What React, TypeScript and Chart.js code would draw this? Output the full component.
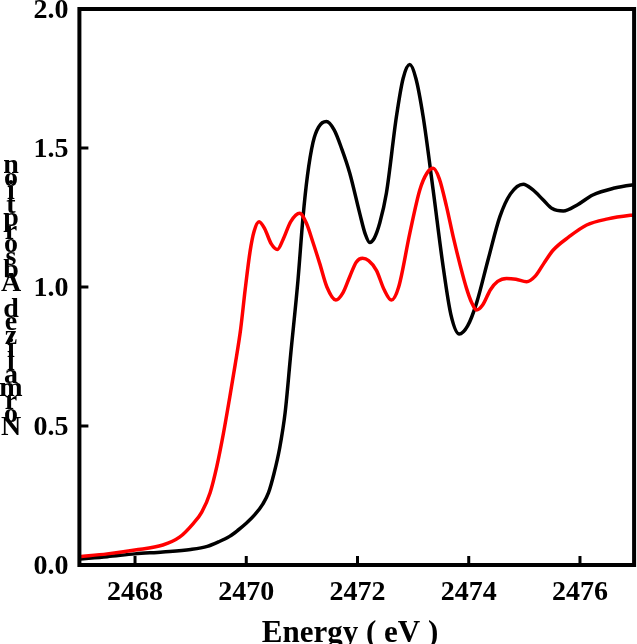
import React, { useEffect, useRef } from "react";
import { Chart, registerables } from "chart.js";

Chart.register(...registerables);

const blackX = [2467.0, 2467.5, 2468.0, 2468.5, 2469.0, 2469.3, 2469.5, 2469.7, 2469.85, 2470.0, 2470.15, 2470.3, 2470.4, 2470.5, 2470.6, 2470.7, 2470.8, 2470.93, 2471.02, 2471.1, 2471.2, 2471.3, 2471.44, 2471.58, 2471.72, 2471.86, 2472.04, 2472.14, 2472.22, 2472.3, 2472.4, 2472.52, 2472.7, 2472.82, 2472.94, 2473.05, 2473.18, 2473.36, 2473.54, 2473.68, 2473.83, 2473.98, 2474.14, 2474.35, 2474.56, 2474.75, 2474.98, 2475.15, 2475.34, 2475.5, 2475.7, 2475.95, 2476.23, 2476.6, 2476.95, 2477.0];
const blackY = [0.022, 0.03, 0.04, 0.047, 0.056, 0.067, 0.083, 0.103, 0.125, 0.15, 0.18, 0.22, 0.26, 0.33, 0.42, 0.55, 0.76, 1.025, 1.25, 1.4, 1.52, 1.575, 1.595, 1.565, 1.495, 1.41, 1.265, 1.19, 1.16, 1.175, 1.23, 1.338, 1.613, 1.75, 1.8, 1.75, 1.613, 1.349, 1.073, 0.9, 0.831, 0.86, 0.942, 1.1, 1.253, 1.335, 1.37, 1.35, 1.313, 1.282, 1.273, 1.295, 1.331, 1.355, 1.367, 1.368];

const redX = [2467.0, 2467.5, 2468.0, 2468.5, 2468.8, 2469.05, 2469.2, 2469.35, 2469.47, 2469.59, 2469.7, 2469.8, 2469.9, 2469.98, 2470.07, 2470.14, 2470.23, 2470.33, 2470.45, 2470.56, 2470.66, 2470.8, 2470.96, 2471.08, 2471.2, 2471.32, 2471.45, 2471.61, 2471.74, 2471.86, 2471.98, 2472.09, 2472.2, 2472.34, 2472.48, 2472.61, 2472.74, 2472.94, 2473.12, 2473.25, 2473.36, 2473.47, 2473.6, 2473.72, 2473.85, 2473.96, 2474.05, 2474.14, 2474.25, 2474.39, 2474.52, 2474.68, 2474.85, 2475.04, 2475.2, 2475.35, 2475.52, 2475.8, 2476.12, 2476.5, 2476.95, 2477.0];
const redY = [0.03, 0.04, 0.054, 0.072, 0.1, 0.15, 0.19, 0.26, 0.354, 0.474, 0.6, 0.72, 0.85, 0.99, 1.13, 1.2, 1.235, 1.21, 1.155, 1.135, 1.17, 1.235, 1.265, 1.23, 1.16, 1.085, 1.0, 0.953, 0.98, 1.037, 1.09, 1.103, 1.095, 1.06, 0.99, 0.953, 1.0, 1.193, 1.349, 1.41, 1.427, 1.39, 1.29, 1.181, 1.075, 0.995, 0.945, 0.917, 0.935, 0.99, 1.02, 1.031, 1.028, 1.019, 1.04, 1.085, 1.133, 1.18, 1.223, 1.245, 1.259, 1.26];

const xTicks = [2468, 2470, 2472, 2474, 2476];
const yTicks = [0, 0.5, 1.0, 1.5, 2.0];
const xTitle = "Energy ( eV )";
const yTitle = "Normalized Absorption";

const FONT = "'Liberation Serif', 'Times New Roman', serif";

const framePlugin = {
  id: "frame",
  afterDatasetsDraw(chart: any) {
    const { ctx, chartArea } = chart;
    const xs = chart.scales.x;
    const ys = chart.scales.y;
    ctx.save();
    ctx.strokeStyle = "#000";
    ctx.lineWidth = 3;
    ctx.beginPath();
    xTicks.forEach((v) => {
      const px = xs.getPixelForValue(v);
      ctx.moveTo(px, chartArea.bottom);
      ctx.lineTo(px, chartArea.bottom - 9);
    });
    yTicks.forEach((v) => {
      const py = ys.getPixelForValue(v);
      ctx.moveTo(chartArea.left, py);
      ctx.lineTo(chartArea.left + 9, py);
    });
    ctx.stroke();
    ctx.lineWidth = 4;
    ctx.strokeRect(chartArea.left, chartArea.top, chartArea.right - chartArea.left - 1.5, chartArea.bottom - chartArea.top);
    ctx.restore();
  },
  afterDraw(chart: any) {
    const { ctx } = chart;
    ctx.save();
    ctx.fillStyle = "#000";
    ctx.textAlign = "center";
    ctx.textBaseline = "middle";
    ctx.font = `bold 31px ${FONT}`;
    ctx.fillText(xTitle, 350, 634);
    ctx.font = `bold 28px ${FONT}`;
    const chars = yTitle.split("");
    chars.forEach((c, i) => {
      if (c !== " ") ctx.fillText(c, 11, 428 - i * 13.1);
    });
    ctx.restore();
  },
};

export default function App() {
  const ref = useRef<HTMLCanvasElement>(null);
  useEffect(() => {
    const canvas = ref.current;
    if (!canvas) return;
    const chart = new Chart(canvas, {
      type: "line",
      data: {
        datasets: [
          {
            data: redX.map((x, i) => ({ x, y: redY[i] })),
            borderColor: "#ff0000",
            borderWidth: 3.5,
            pointRadius: 0,
            cubicInterpolationMode: "monotone",
            fill: false,
          },
          {
            data: blackX.map((x, i) => ({ x, y: blackY[i] })),
            borderColor: "#000000",
            borderWidth: 3.5,
            pointRadius: 0,
            cubicInterpolationMode: "monotone",
            fill: false,
          },
        ],
      },
      options: {
        animation: false,
        responsive: false,
        maintainAspectRatio: false,
        layout: { padding: { top: 9, right: 1.4, left: 0, bottom: 0 } },
        plugins: { legend: { display: false }, tooltip: { enabled: false } },
        scales: {
          x: {
            type: "linear",
            min: 2467,
            max: 2477,
            grid: { display: false, drawTicks: false },
            border: { display: false },
            afterBuildTicks: (s: any) => {
              s.ticks = xTicks.map((v) => ({ value: v }));
            },
            afterFit: (s: any) => {
              s.height = 79;
              s.paddingLeft = 0;
              s.paddingRight = 0;
            },
            ticks: {
              padding: 11,
              maxRotation: 0,
              autoSkip: false,
              color: "#000",
              font: { family: FONT, size: 28, weight: "bold" },
              callback: (v: any) => String(v),
            },
          },
          y: {
            type: "linear",
            min: 0,
            max: 2,
            grid: { display: false, drawTicks: false },
            border: { display: false },
            afterBuildTicks: (s: any) => {
              s.ticks = yTicks.map((v) => ({ value: v }));
            },
            afterFit: (s: any) => {
              s.width = 79.4;
              s.paddingTop = 0;
              s.paddingBottom = 0;
            },
            ticks: {
              padding: 11,
              labelOffset: 2,
              color: "#000",
              font: { family: FONT, size: 28, weight: "bold" },
              callback: (v: any) => Number(v).toFixed(1),
            },
          },
        },
      },
      plugins: [framePlugin],
    } as any);
    return () => chart.destroy();
  }, []);
  return (
    <div style={{ position: "absolute", left: 0, top: 0, width: 637, height: 644, background: "#fff" }}>
      <canvas ref={ref} width={637} height={644} style={{ display: "block" }} />
    </div>
  );
}
